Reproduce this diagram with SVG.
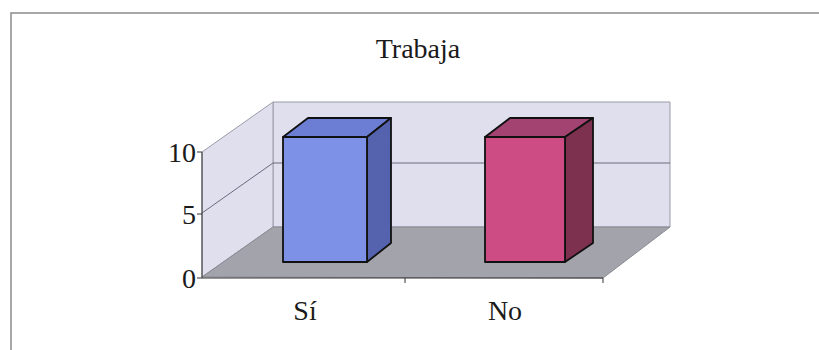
<svg xmlns="http://www.w3.org/2000/svg" width="819" height="350" viewBox="0 0 819 350">
<style>
.t{font-family:"Liberation Serif","Times New Roman",serif;fill:#1a1a1a;font-size:28px}
.wall{fill:#dfdfee;stroke:#9a9aa8;stroke-width:1}
.grid{stroke:#6a6a7a;stroke-width:1;fill:none}
.ax{stroke:#333;stroke-width:1;fill:none}
.bar{stroke:#111;stroke-width:1.8;stroke-linejoin:round}
</style>
<rect x="0" y="0" width="819" height="350" fill="#ffffff"/>
<rect x="11" y="13" width="820" height="345" fill="#ffffff" stroke="#8a8a8a" stroke-width="1.5"/>
<g id="title"><text class="t" x="418" y="58" text-anchor="middle">Trabaja</text></g>
<g id="plot">
<polygon class="wall" points="273,102 670,102 670,227 273,227"/>
<polygon class="wall" points="202,152 273,102 273,227 202,277"/>
<polygon points="202,277 273,227 670,227 603,278" fill="#a3a3ab" stroke="#8a8a94" stroke-width="1"/>
<line class="grid" x1="273" y1="163" x2="670" y2="163"/>
<line class="grid" x1="202" y1="213" x2="273" y2="163"/>
</g>
<g id="axes">
<line class="ax" x1="202" y1="152" x2="202" y2="278"/>
<line class="ax" x1="197" y1="152" x2="202" y2="152"/>
<line class="ax" x1="197" y1="214" x2="202" y2="214"/>
<line class="ax" x1="197" y1="278" x2="202" y2="278"/>
<line class="ax" x1="202" y1="278" x2="603" y2="278"/>
<line class="ax" x1="405" y1="278" x2="405" y2="283"/>
<line class="ax" x1="603" y1="278" x2="603" y2="283"/>
<text class="t" x="196" y="162" text-anchor="end">10</text>
<text class="t" x="196" y="224" text-anchor="end">5</text>
<text class="t" x="196" y="288" text-anchor="end">0</text>
</g>
<g id="bar-si">
<polygon class="bar" points="283,137 308,118 391,118 367,137" fill="#6c7ed4"/>
<polygon class="bar" points="367,137 391,118 391,243 367,262" fill="#5563ae"/>
<rect class="bar" x="283" y="137" width="84" height="125" fill="#7d92e6"/>
</g>
<g id="bar-no">
<polygon class="bar" points="485,137 510,118 593,118 565,137" fill="#a24371"/>
<polygon class="bar" points="565,137 593,118 593,243 565,262" fill="#7e304f"/>
<rect class="bar" x="485" y="137" width="80" height="125" fill="#cd4c84"/>
</g>
<g id="labels">
<text class="t" x="305" y="320" text-anchor="middle">Sí</text>
<text class="t" x="505" y="320" text-anchor="middle">No</text>
</g>
</svg>
